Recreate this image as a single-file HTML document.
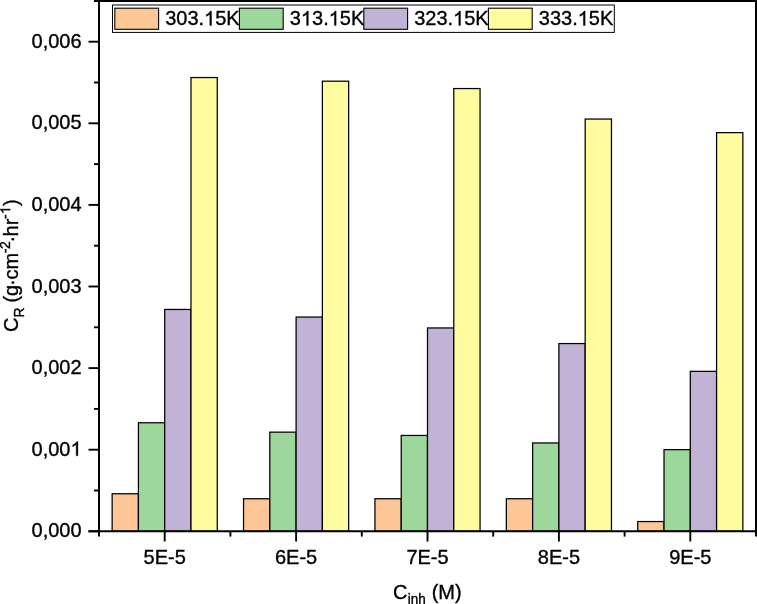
<!DOCTYPE html>
<html><head><meta charset="utf-8"><style>
html,body{margin:0;padding:0;background:#fff;overflow:hidden}
svg{display:block;will-change:transform}
.t{font-family:"Liberation Sans",sans-serif;font-size:20px;fill:#000;stroke:#000;stroke-width:0.35px}
</style></head><body>
<svg width="757" height="604" viewBox="0 0 757 604">
<rect width="757" height="604" fill="#fff"/>
<rect x="112.14" y="493.75" width="26.28" height="37.55" fill="#FDC696" stroke="#000" stroke-width="1.25"/>
<rect x="138.42" y="422.75" width="26.28" height="108.55" fill="#9DD79C" stroke="#000" stroke-width="1.25"/>
<rect x="164.70" y="309.45" width="26.28" height="221.85" fill="#C1B2D6" stroke="#000" stroke-width="1.25"/>
<rect x="190.98" y="77.55" width="26.28" height="453.75" fill="#FFFC9F" stroke="#000" stroke-width="1.25"/>
<rect x="243.54" y="498.75" width="26.28" height="32.55" fill="#FDC696" stroke="#000" stroke-width="1.25"/>
<rect x="269.82" y="432.15" width="26.28" height="99.15" fill="#9DD79C" stroke="#000" stroke-width="1.25"/>
<rect x="296.10" y="317.05" width="26.28" height="214.25" fill="#C1B2D6" stroke="#000" stroke-width="1.25"/>
<rect x="322.38" y="81.20" width="26.28" height="450.10" fill="#FFFC9F" stroke="#000" stroke-width="1.25"/>
<rect x="374.94" y="498.75" width="26.28" height="32.55" fill="#FDC696" stroke="#000" stroke-width="1.25"/>
<rect x="401.22" y="435.45" width="26.28" height="95.85" fill="#9DD79C" stroke="#000" stroke-width="1.25"/>
<rect x="427.50" y="327.95" width="26.28" height="203.35" fill="#C1B2D6" stroke="#000" stroke-width="1.25"/>
<rect x="453.78" y="88.55" width="26.28" height="442.75" fill="#FFFC9F" stroke="#000" stroke-width="1.25"/>
<rect x="506.34" y="498.75" width="26.28" height="32.55" fill="#FDC696" stroke="#000" stroke-width="1.25"/>
<rect x="532.62" y="442.95" width="26.28" height="88.35" fill="#9DD79C" stroke="#000" stroke-width="1.25"/>
<rect x="558.90" y="343.55" width="26.28" height="187.75" fill="#C1B2D6" stroke="#000" stroke-width="1.25"/>
<rect x="585.18" y="119.05" width="26.28" height="412.25" fill="#FFFC9F" stroke="#000" stroke-width="1.25"/>
<rect x="637.74" y="521.55" width="26.28" height="9.75" fill="#FDC696" stroke="#000" stroke-width="1.25"/>
<rect x="664.02" y="449.65" width="26.28" height="81.65" fill="#9DD79C" stroke="#000" stroke-width="1.25"/>
<rect x="690.30" y="371.35" width="26.28" height="159.95" fill="#C1B2D6" stroke="#000" stroke-width="1.25"/>
<rect x="716.58" y="132.65" width="26.28" height="398.65" fill="#FFFC9F" stroke="#000" stroke-width="1.25"/>
<line x1="99.0" y1="0" x2="99.0" y2="536.6" stroke="#000" stroke-width="2.0"/>
<line x1="756.0" y1="0" x2="756.0" y2="536.6" stroke="#000" stroke-width="2.0"/>
<line x1="94" y1="0.9" x2="757" y2="0.9" stroke="#000" stroke-width="2.0"/>
<line x1="88.5" y1="531.3" x2="757" y2="531.3" stroke="#000" stroke-width="2.0"/>
<line x1="88.5" y1="531.30" x2="99.0" y2="531.30" stroke="#000" stroke-width="1.9"/>
<line x1="94" y1="490.50" x2="99.0" y2="490.50" stroke="#000" stroke-width="1.9"/>
<text id="t0" transform="translate(81.6,537.40) scale(1,1.04)" text-anchor="end" class="t">0,000</text>
<line x1="88.5" y1="449.70" x2="99.0" y2="449.70" stroke="#000" stroke-width="1.9"/>
<line x1="94" y1="408.90" x2="99.0" y2="408.90" stroke="#000" stroke-width="1.9"/>
<text id="t1" transform="translate(81.6,455.80) scale(1,1.04)" text-anchor="end" class="t">0,00 </text>
<line x1="88.5" y1="368.10" x2="99.0" y2="368.10" stroke="#000" stroke-width="1.9"/>
<line x1="94" y1="327.30" x2="99.0" y2="327.30" stroke="#000" stroke-width="1.9"/>
<text id="t2" transform="translate(81.6,374.20) scale(1,1.04)" text-anchor="end" class="t">0,002</text>
<line x1="88.5" y1="286.50" x2="99.0" y2="286.50" stroke="#000" stroke-width="1.9"/>
<line x1="94" y1="245.70" x2="99.0" y2="245.70" stroke="#000" stroke-width="1.9"/>
<text id="t3" transform="translate(81.6,292.60) scale(1,1.04)" text-anchor="end" class="t">0,003</text>
<line x1="88.5" y1="204.90" x2="99.0" y2="204.90" stroke="#000" stroke-width="1.9"/>
<line x1="94" y1="164.10" x2="99.0" y2="164.10" stroke="#000" stroke-width="1.9"/>
<text id="t4" transform="translate(81.6,211.00) scale(1,1.04)" text-anchor="end" class="t">0,004</text>
<line x1="88.5" y1="123.30" x2="99.0" y2="123.30" stroke="#000" stroke-width="1.9"/>
<line x1="94" y1="82.50" x2="99.0" y2="82.50" stroke="#000" stroke-width="1.9"/>
<text id="t5" transform="translate(81.6,129.40) scale(1,1.04)" text-anchor="end" class="t">0,005</text>
<line x1="88.5" y1="41.70" x2="99.0" y2="41.70" stroke="#000" stroke-width="1.9"/>
<line x1="94" y1="0.90" x2="99.0" y2="0.90" stroke="#000" stroke-width="1.9"/>
<text id="t6" transform="translate(81.6,47.80) scale(1,1.04)" text-anchor="end" class="t">0,006</text>
<line x1="164.70" y1="531.3" x2="164.70" y2="541.5" stroke="#000" stroke-width="1.9"/>
<text transform="translate(164.70,564.4) scale(1,1.04)" text-anchor="middle" class="t">5E-5</text>
<line x1="296.10" y1="531.3" x2="296.10" y2="541.5" stroke="#000" stroke-width="1.9"/>
<text transform="translate(296.10,564.4) scale(1,1.04)" text-anchor="middle" class="t">6E-5</text>
<line x1="427.50" y1="531.3" x2="427.50" y2="541.5" stroke="#000" stroke-width="1.9"/>
<text transform="translate(427.50,564.4) scale(1,1.04)" text-anchor="middle" class="t">7E-5</text>
<line x1="558.90" y1="531.3" x2="558.90" y2="541.5" stroke="#000" stroke-width="1.9"/>
<text transform="translate(558.90,564.4) scale(1,1.04)" text-anchor="middle" class="t">8E-5</text>
<line x1="690.30" y1="531.3" x2="690.30" y2="541.5" stroke="#000" stroke-width="1.9"/>
<text transform="translate(690.30,564.4) scale(1,1.04)" text-anchor="middle" class="t">9E-5</text>
<line x1="230.40" y1="531.3" x2="230.40" y2="536.6" stroke="#000" stroke-width="1.9"/>
<line x1="361.80" y1="531.3" x2="361.80" y2="536.6" stroke="#000" stroke-width="1.9"/>
<line x1="493.20" y1="531.3" x2="493.20" y2="536.6" stroke="#000" stroke-width="1.9"/>
<line x1="624.60" y1="531.3" x2="624.60" y2="536.6" stroke="#000" stroke-width="1.9"/>
<rect x="112.5" y="5" width="501.8" height="27.4" fill="#fff" stroke="#000" stroke-width="1"/>
<rect x="114.80" y="8.2" width="43.8" height="21.1" fill="#FDC696" stroke="#000" stroke-width="1.1"/>
<text id="t7" transform="translate(165.20,25.4) scale(1,1.04)" class="t">303. 5K</text>
<rect x="239.40" y="8.2" width="43.8" height="21.1" fill="#9DD79C" stroke="#000" stroke-width="1.1"/>
<text id="t8" transform="translate(289.80,25.4) scale(1,1.04)" class="t">3 3. 5K</text>
<rect x="363.80" y="8.2" width="43.8" height="21.1" fill="#C1B2D6" stroke="#000" stroke-width="1.1"/>
<text id="t9" transform="translate(414.20,25.4) scale(1,1.04)" class="t">323. 5K</text>
<rect x="488.40" y="8.2" width="43.8" height="21.1" fill="#FFFC9F" stroke="#000" stroke-width="1.1"/>
<text id="t10" transform="translate(538.80,25.4) scale(1,1.04)" class="t">333. 5K</text>
<text transform="translate(393,599.3) scale(1,1.04)" class="t">C<tspan font-size="13.5" dy="4.4" dx="0.3">inh</tspan><tspan dy="-4.4" dx="0.4"> (M)</tspan></text>
<text id="t11" transform="translate(18.2,332.0) rotate(-90) scale(1,1.04)" class="t">C<tspan font-size="14" dy="5.9">R</tspan><tspan dy="-5.9" dx="0 -0.7 0"> (g</tspan><tspan dx="-1.3 0 -0.1">·cm</tspan><tspan font-size="14" dy="-7.7" dx="-0.4 -0.4">-2</tspan><tspan dy="7.7" dx="-1.2 -0.7 0">·hr</tspan><tspan font-size="14" dy="-7.7" dx="-0.2 0">- </tspan><tspan dy="7.7" dx="0.4">)</tspan></text>
<path transform="translate(81.6,455.80) scale(1,1.04) translate(-11.135,0.000) scale(0.009766,-0.009390)" d="M763 0L583 0L583 1147Q518 1085 412.5 1023Q307 961 223 930L223 1104Q374 1175 487 1276Q600 1377 647 1472L763 1472Z" class="t" vector-effect="non-scaling-stroke"/>
<path transform="translate(165.20,25.4) scale(1,1.04) translate(38.887,0.000) scale(0.009766,-0.009390)" d="M763 0L583 0L583 1147Q518 1085 412.5 1023Q307 961 223 930L223 1104Q374 1175 487 1276Q600 1377 647 1472L763 1472Z" class="t" vector-effect="non-scaling-stroke"/>
<path transform="translate(289.80,25.4) scale(1,1.04) translate(11.104,0.000) scale(0.009766,-0.009390)" d="M763 0L583 0L583 1147Q518 1085 412.5 1023Q307 961 223 930L223 1104Q374 1175 487 1276Q600 1377 647 1472L763 1472Z" class="t" vector-effect="non-scaling-stroke"/>
<path transform="translate(289.80,25.4) scale(1,1.04) translate(38.887,0.000) scale(0.009766,-0.009390)" d="M763 0L583 0L583 1147Q518 1085 412.5 1023Q307 961 223 930L223 1104Q374 1175 487 1276Q600 1377 647 1472L763 1472Z" class="t" vector-effect="non-scaling-stroke"/>
<path transform="translate(414.20,25.4) scale(1,1.04) translate(38.887,0.000) scale(0.009766,-0.009390)" d="M763 0L583 0L583 1147Q518 1085 412.5 1023Q307 961 223 930L223 1104Q374 1175 487 1276Q600 1377 647 1472L763 1472Z" class="t" vector-effect="non-scaling-stroke"/>
<path transform="translate(538.80,25.4) scale(1,1.04) translate(38.887,0.000) scale(0.009766,-0.009390)" d="M763 0L583 0L583 1147Q518 1085 412.5 1023Q307 961 223 930L223 1104Q374 1175 487 1276Q600 1377 647 1472L763 1472Z" class="t" vector-effect="non-scaling-stroke"/>
<path transform="translate(18.2,332.0) rotate(-90) scale(1,1.04) translate(117.786,-7.700) scale(0.006836,-0.006573)" d="M763 0L583 0L583 1147Q518 1085 412.5 1023Q307 961 223 930L223 1104Q374 1175 487 1276Q600 1377 647 1472L763 1472Z" class="t" vector-effect="non-scaling-stroke"/>
</svg>
</body></html>
